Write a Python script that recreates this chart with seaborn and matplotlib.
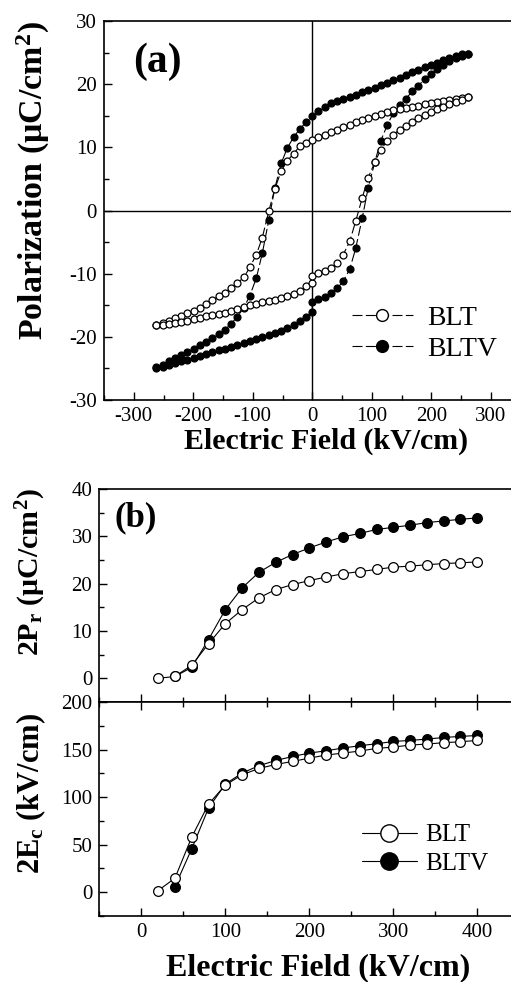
"""Ferroelectric hysteresis of BLT and BLTV films, with 2Pr and 2Ec vs field."""

import matplotlib

matplotlib.use("Agg")
import matplotlib.pyplot as plt
from matplotlib.lines import Line2D
from matplotlib.ticker import MultipleLocator
import seaborn as sns


# (a) P-E loops: field swept from +Emax down to -Emax, then back up
FIELD_DOWN = [262, 251, 241, 230, 220, 210, 199, 189, 178, 168, 157, 147, 136,
              126, 115, 105, 94, 84, 73, 63, 52, 42, 31, 21, 10, 0,
              -10, -21, -31, -42, -52, -63, -73, -84, -94, -105, -115, -126,
              -136, -147, -157, -168, -178, -189, -199, -210, -220, -230,
              -241, -251, -262]
FIELD_UP = [-262, -251, -241, -230, -220, -210, -199, -189, -178, -168, -157,
            -147, -136, -126, -115, -105, -94, -84, -73, -63, -52, -42, -31,
            -21, -10, 0, 0, 10, 21, 31, 42, 52, 63, 73, 84, 94, 105, 115, 126,
            136, 147, 157, 168, 178, 189, 199, 210, 220, 230, 241, 251, 262]

BLT_DOWN = [18.0, 17.75, 17.6, 17.45, 17.3, 17.15, 16.95, 16.8, 16.6, 16.45,
            16.3, 16.1, 15.85, 15.55, 15.3, 15.0, 14.6, 14.3, 13.95, 13.55,
            13.15, 12.8, 12.4, 12.0, 11.6, 11.1,
            10.65, 10.2, 9.0, 7.9, 6.3, 3.4, -0.1, -4.3, -7.0, -9.0, -10.6,
            -11.5, -12.2, -13.0, -13.6, -14.2, -14.85, -15.4, -15.9, -16.3,
            -16.7, -17.05, -17.45, -17.85, -18.1]
BLT_UP = [-18.2, -18.1, -17.95, -17.8, -17.65, -17.45, -17.2, -16.95, -16.75,
          -16.55, -16.35, -16.15, -15.9, -15.65, -15.3, -15.0, -14.8, -14.55,
          -14.3, -14.1, -13.85, -13.55, -13.25, -12.8, -12.0, -11.4,
          -10.4, -9.95, -9.55, -9.15, -8.35, -7.0, -4.9, -1.7, 2.0, 5.2, 7.6,
          9.6, 11.0, 12.0, 12.8, 13.4, 14.0, 14.6, 15.1, 15.55, 16.0, 16.4,
          16.8, 17.15, 17.5, 17.9]

BLTV_DOWN = [24.8, 24.7, 24.45, 24.1, 23.75, 23.4, 23.1, 22.75, 22.3, 21.9,
             21.45, 21.05, 20.6, 20.2, 19.85, 19.45, 19.05, 18.7, 18.35, 18.0,
             17.7, 17.35, 17.0, 16.45, 15.7, 14.9,
             14.0, 12.9, 11.65, 9.9, 7.5, 3.5, -1.5, -6.8, -10.7, -13.5, -15.4,
             -16.8, -17.9, -18.9, -19.6, -20.2, -20.8, -21.35, -21.85, -22.4,
             -22.85, -23.3, -23.85, -24.4, -24.8]
BLTV_UP = [-24.9, -24.75, -24.5, -24.2, -23.9, -23.6, -23.3, -23.05, -22.75,
           -22.45, -22.15, -21.85, -21.55, -21.25, -20.95, -20.65, -20.35,
           -20.05, -19.7, -19.35, -19.0, -18.6, -18.15, -17.55, -16.9, -16.0,
           -14.5, -14.0, -13.65, -13.1, -12.3, -11.2, -9.3, -6.0, -1.2, 3.6,
           7.6, 11.0, 13.5, 15.4, 16.7, 17.6, 18.9, 19.75, 20.75, 21.65,
           22.45, 23.1, 23.65, 24.1, 24.45, 24.8]

# (b) remanent polarization and coercive field vs applied field
FIELD_BLT = [20, 40, 60, 80, 100, 120, 140, 160, 180, 200, 220, 240, 260, 280,
             300, 320, 340, 360, 380, 400]
FIELD_BLTV = [40, 60, 80, 100, 120, 140, 160, 180, 200, 220, 240, 260, 280,
              300, 320, 340, 360, 380, 400]
PR_BLT = [0.0, 0.4, 2.75, 7.3, 11.55, 14.5, 17.0, 18.75, 19.8, 20.65, 21.4,
          22.1, 22.55, 23.0, 23.5, 23.7, 24.0, 24.25, 24.4, 24.6]
PR_BLTV = [0.4, 2.3, 8.2, 14.5, 19.1, 22.4, 24.5, 26.15, 27.55, 28.8, 29.9,
           30.6, 31.45, 31.9, 32.35, 32.9, 33.25, 33.6, 33.9]
EC_BLT = [1.7, 14.7, 57.9, 92.6, 112.6, 123.5, 130.1, 134.3, 137.5, 141.0,
          144.2, 146.3, 148.4, 151.2, 152.6, 154.7, 155.8, 157.2, 158.2, 159.6]
EC_BLTV = [5.9, 45.6, 88.4, 113.7, 125.3, 133.0, 138.5, 142.7, 146.3, 148.7,
           151.6, 154.0, 156.1, 158.5, 159.6, 161.0, 162.7, 163.8, 164.8]

LABELS = ["BLT", "BLTV"]
LOOP_DASH = (0, (9, 3))


def draw(ax, x, y, filled, ms, ls="-"):
    sns.lineplot(x=x, y=y, ax=ax, sort=False, estimator=None, color="black",
                 linewidth=0.8, linestyle=ls, marker="o", markersize=ms,
                 markerfacecolor="black" if filled else "white",
                 markeredgecolor="black", markeredgewidth=0.9)


def legend_handles(ms, ls):
    return [Line2D([], [], color="black", lw=0.8, ls=ls, marker="o",
                   markersize=ms, markerfacecolor=fc, markeredgecolor="black",
                   markeredgewidth=1.0)
            for fc in ("white", "black")]


def style_ticks(ax):
    ax.tick_params(which="both", direction="in", width=1.0, labelsize=15,
                   pad=5, colors="black")
    ax.tick_params(which="major", length=6)
    ax.tick_params(which="minor", length=3.5)
    for side in ax.spines.values():
        side.set_linewidth(1.2)
        side.set_visible(True)


sns.set_style("ticks")
plt.rcParams["font.family"] = ["Liberation Serif", "DejaVu Serif"]
plt.rcParams["mathtext.fontset"] = "custom"
plt.rcParams["mathtext.rm"] = "Liberation Serif:bold"
plt.rcParams["mathtext.it"] = "Liberation Serif:bold"
plt.rcParams["mathtext.bf"] = "Liberation Serif:bold"
plt.rcParams["axes.unicode_minus"] = False
plt.rcParams["axes.edgecolor"] = "black"
plt.rcParams["axes.labelcolor"] = "black"
plt.rcParams["text.color"] = "black"

W, H = 511, 982
fig = plt.figure(figsize=(W / 100, H / 100), dpi=100)
ax_a = fig.add_axes([104 / W, 1 - 400 / H, 416.5 / W, 379 / H])
ax_p = fig.add_axes([99.3 / W, 1 - 702 / H, 420 / W, 213 / H])
ax_e = fig.add_axes([99.3 / W, 1 - 916 / H, 420 / W, 214 / H])

# panel (a)
ax_a.axhline(0, color="black", lw=1.0)
ax_a.axvline(0, color="black", lw=1.0)
draw(ax_a, FIELD_DOWN + FIELD_UP, BLTV_DOWN + BLTV_UP, True, 5.0, LOOP_DASH)
draw(ax_a, FIELD_DOWN + FIELD_UP, BLT_DOWN + BLT_UP, False, 5.0, LOOP_DASH)
ax_a.set_xlim(-350, 350)
ax_a.set_ylim(-30, 30)
ax_a.xaxis.set_major_locator(MultipleLocator(100))
ax_a.xaxis.set_minor_locator(MultipleLocator(50))
ax_a.yaxis.set_major_locator(MultipleLocator(10))
ax_a.yaxis.set_minor_locator(MultipleLocator(5))
style_ticks(ax_a)
ax_a.set_xlabel("Electric Field (kV/cm)", fontsize=21.5, fontweight="bold")
ax_a.set_ylabel("Polarization (μC/cm$^{2}$)", fontsize=24.5,
                fontweight="bold")
ax_a.xaxis.set_label_coords(0.534, -0.072)
ax_a.yaxis.set_label_coords(-0.124, 0.58)
ax_a.text(0.07, 0.892, "(a)", transform=ax_a.transAxes, fontsize=30,
          fontweight="bold", ha="left", va="center")
ax_a.legend(legend_handles(8.5, LOOP_DASH), LABELS, loc="upper left",
            bbox_to_anchor=(0.595, 0.25), frameon=False, fontsize=20,
            handlelength=2.2, handletextpad=0.5, labelspacing=0.2,
            borderpad=0, borderaxespad=0)

# panel (b), top: 2Pr
draw(ax_p, FIELD_BLTV, PR_BLTV, True, 7)
draw(ax_p, FIELD_BLT, PR_BLT, False, 7)
ax_p.set_xlim(-50, 450)
ax_p.set_ylim(-5, 40)
ax_p.xaxis.set_major_locator(MultipleLocator(100))
ax_p.xaxis.set_minor_locator(MultipleLocator(50))
ax_p.yaxis.set_major_locator(MultipleLocator(10))
ax_p.yaxis.set_minor_locator(MultipleLocator(5))
style_ticks(ax_p)
ax_p.tick_params(labelbottom=False)
ax_p.set_xlabel("")
ax_p.set_ylabel("2P$_{r}$ (μC/cm$^{2}$)", fontsize=21.5, fontweight="bold")
ax_p.yaxis.set_label_coords(-0.121, 0.61)
ax_p.text(0.037, 0.864, "(b)", transform=ax_p.transAxes, fontsize=25,
          fontweight="bold", ha="left", va="center")

# panel (b), bottom: 2Ec
draw(ax_e, FIELD_BLTV, EC_BLTV, True, 7)
draw(ax_e, FIELD_BLT, EC_BLT, False, 7)
ax_e.set_xlim(-50, 450)
ax_e.set_ylim(-25, 200)
ax_e.xaxis.set_major_locator(MultipleLocator(100))
ax_e.xaxis.set_minor_locator(MultipleLocator(50))
ax_e.yaxis.set_major_locator(MultipleLocator(50))
ax_e.yaxis.set_minor_locator(MultipleLocator(25))
style_ticks(ax_e)
ax_e.tick_params(axis="x", which="both", top=True)
ax_e.set_xlabel("Electric Field (kV/cm)", fontsize=23, fontweight="bold")
ax_e.set_ylabel("2E$_{c}$ (kV/cm)", fontsize=22, fontweight="bold")
ax_e.xaxis.set_label_coords(0.522, -0.172)
ax_e.yaxis.set_label_coords(-0.121, 0.575)
ax_e.legend(legend_handles(12.5, "-"), LABELS, loc="upper left",
            bbox_to_anchor=(0.625, 0.43), frameon=False, fontsize=18,
            handlelength=2.2, handletextpad=0.35, labelspacing=0.25,
            borderpad=0, borderaxespad=0)

fig.savefig("out.png", dpi=100)
